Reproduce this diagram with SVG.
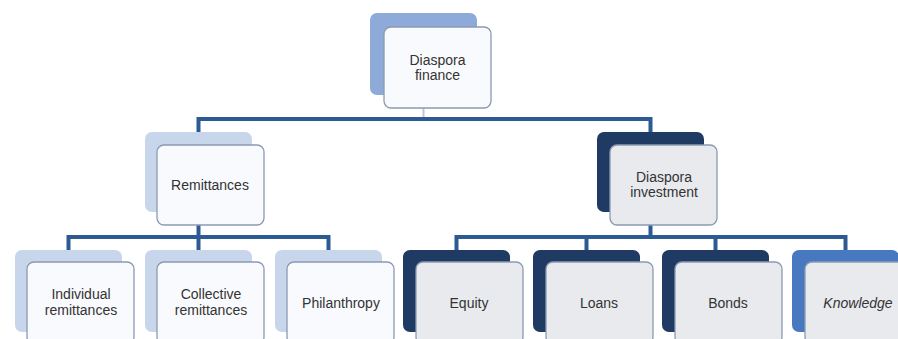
<svg xmlns="http://www.w3.org/2000/svg" width="898" height="339" viewBox="0 0 898 339">
<style>
.bk{stroke:none}
.lt{fill:#c8d6eb}
.md{fill:#8eaad9}
.dk{fill:#1f3a63}
.kn{fill:#4878c0}
.fr{stroke:#8a9ab3;stroke-width:1.3}
.fw{fill:#f9fafd}
.fg{fill:#e8eaee}
.ln{fill:none;stroke:#2c5a92;stroke-width:4;stroke-linejoin:miter}
.lf{fill:none;stroke:#b9c7dc;stroke-width:2}
text{font-family:"Liberation Sans",Arial,sans-serif;font-size:14px;fill:#333;text-anchor:middle}
</style>
<g id="connectors">
<line class="lf" x1="423.5" y1="108" x2="423.5" y2="117"/>
<polyline class="ln" points="198.5,132 198.5,119 650.5,119 650.5,132"/>
<line class="ln" x1="198.5" y1="225" x2="198.5" y2="250"/>
<polyline class="ln" points="68.5,250 68.5,237 328.5,237 328.5,250"/>
<line class="ln" x1="650.5" y1="225" x2="650.5" y2="237"/>
<polyline class="ln" points="456.5,250 456.5,237 845.5,237 845.5,250"/>
<line class="ln" x1="586.5" y1="237" x2="586.5" y2="250"/>
<line class="ln" x1="715.5" y1="237" x2="715.5" y2="250"/>
</g>
<g id="diaspora-finance">
<rect class="bk md" x="370" y="13" width="107" height="82" rx="7"/>
<rect class="fr fw" x="384" y="27" width="107" height="81" rx="7"/>
<text x="437.5" y="65">Diaspora</text>
<text x="437.5" y="80">finance</text>
</g>
<g id="remittances">
<rect class="bk lt" x="145" y="132" width="107" height="80" rx="7"/>
<rect class="fr fw" x="157" y="145" width="107" height="80" rx="7"/>
<text x="210" y="190">Remittances</text>
</g>
<g id="diaspora-investment">
<rect class="bk dk" x="597" y="132" width="107" height="80" rx="7"/>
<rect class="fr fg" x="610" y="145" width="107" height="80" rx="7"/>
<text x="664" y="182">Diaspora</text>
<text x="664" y="197">investment</text>
</g>
<g id="individual-remittances">
<rect class="bk lt" x="15" y="250" width="107" height="82" rx="7"/>
<rect class="fr fw" x="27" y="262" width="107" height="82" rx="7"/>
<text x="81" y="299">Individual</text>
<text x="81" y="315">remittances</text>
</g>
<g id="collective-remittances">
<rect class="bk lt" x="145" y="250" width="107" height="82" rx="7"/>
<rect class="fr fw" x="157" y="262" width="107" height="82" rx="7"/>
<text x="211" y="299">Collective</text>
<text x="211" y="315">remittances</text>
</g>
<g id="philanthropy">
<rect class="bk lt" x="275" y="250" width="107" height="82" rx="7"/>
<rect class="fr fw" x="287" y="262" width="107" height="82" rx="7"/>
<text x="341" y="308">Philanthropy</text>
</g>
<g id="equity">
<rect class="bk dk" x="403" y="250" width="107" height="82" rx="7"/>
<rect class="fr fg" x="416" y="262" width="107" height="82" rx="7"/>
<text x="469" y="308">Equity</text>
</g>
<g id="loans">
<rect class="bk dk" x="533" y="250" width="107" height="82" rx="7"/>
<rect class="fr fg" x="546" y="262" width="107" height="82" rx="7"/>
<text x="599" y="308">Loans</text>
</g>
<g id="bonds">
<rect class="bk dk" x="662" y="250" width="107" height="82" rx="7"/>
<rect class="fr fg" x="675" y="262" width="107" height="82" rx="7"/>
<text x="728" y="308">Bonds</text>
</g>
<g id="knowledge">
<rect class="bk kn" x="792" y="250" width="107" height="82" rx="7"/>
<rect class="fr fg" x="805" y="262" width="107" height="82" rx="7"/>
<text x="858" y="308" font-style="italic">Knowledge</text>
</g>
</svg>
